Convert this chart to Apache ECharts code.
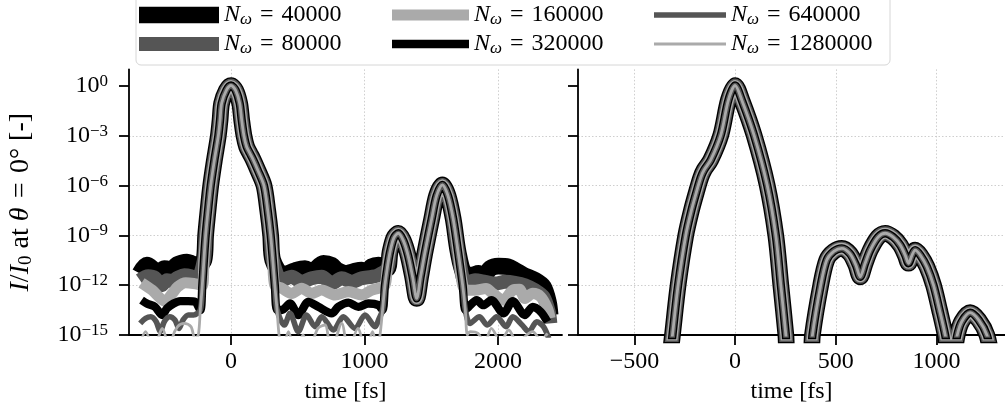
<!DOCTYPE html>
<html><head><meta charset="utf-8">
<script src="https://cdn.jsdelivr.net/npm/echarts@6/dist/echarts.min.js"></script>
<style>html,body{margin:0;padding:0;background:#fff}#c{width:1005px;height:410px}</style>
</head><body><div id="c"></div><script>
// ---------------- data ----------------
const nOmega = ['40000', '80000', '160000', '320000', '640000', '1280000'];
const floorValues = [4e-12, 1.5e-12, 5e-13, 3e-14, 1e-14, 1e-16];
const refLevel = 1e-12;
const yTickValues = [1e-15, 1e-12, 1e-9, 1e-6, 1e-3, 1];
const leftXTicks = [0, 1000, 2000];
const rightXTicks = [-500, 0, 500, 1000];

// left panel: common main pulse and echo pulses, time [fs], I/I0
const leftMainPeak = [[-262,1e-17],[-245,1e-15],[-230,3.2e-14],[-215,1e-12],[-203,3.2e-11],[-190,1e-9],[-172,3.2e-8],[-152,1e-6],[-125,3.2e-5],[-95,1e-3],[-82,8.9e-3],[-70,0.091],[-35,0.55],[0,1.07],[35,0.55],[65,0.091],[80,8.9e-3],[97,1e-3],[117,2.2e-4],[142,8.7e-5],[167,3.5e-5],[200,8.7e-6],[247,1e-6],[275,3.2e-8],[297,1e-9],[313,3.2e-11],[328,1e-12],[345,3.2e-14],[360,1e-15],[375,1e-17]];
const leftEchoPeaks = [[1100,3.2e-17],[1116,1e-15],[1135,3.2e-14],[1153,1e-12],[1170,1e-11],[1191,1e-10],[1220,7.1e-10],[1253,1.35e-9],[1290,5e-10],[1326,6.3e-11],[1360,3.2e-12],[1391,1.6e-13],[1420,3.2e-12],[1453,1e-10],[1503,1e-8],[1540,2.5e-7],[1583,1.1e-6],[1625,2.5e-7],[1664,1e-8],[1701,1e-10],[1735,1e-12],[1755,3.2e-14],[1770,1e-15],[1785,3.2e-17]];

// noise floors per N_omega (before main pulse, between, after echoes)
const noiseBefore = [
  [[-682,5e-12],[-630,1.6e-11],[-590,1e-11],[-545,4e-12],[-500,1e-11],[-470,8.9e-12],[-452,3.2e-12],[-410,1.6e-11],[-370,2.2e-11],[-330,2.5e-11],[-295,2e-11],[-260,1.6e-11]],
  [[-682,2e-12],[-620,3.5e-12],[-570,2.8e-12],[-520,1e-12],[-480,2e-12],[-440,1.8e-12],[-400,2.8e-12],[-350,4e-12],[-300,3.5e-12],[-255,2.5e-12]],
  [[-670,1.4e-12],[-590,5e-13],[-494,1.1e-13],[-440,3.2e-13],[-400,7.9e-13],[-340,1.4e-12],[-280,1.26e-12]],
  [[-670,1.26e-13],[-630,7.9e-14],[-570,5e-14],[-515,1.6e-14],[-480,4e-14],[-430,7.9e-14],[-380,1.1e-13],[-320,1.1e-13],[-270,1e-13]],
  [[-680,5e-15],[-640,1e-14],[-600,1.26e-14],[-560,6.3e-15],[-530,1.6e-15],[-500,6.3e-15],[-460,1.26e-14],[-420,7.9e-15],[-390,2.5e-15],[-360,7.9e-15],[-320,1.6e-14],[-280,1.6e-14]],
  [[-680,3.2e-16],[-640,1.6e-15],[-600,2.5e-16],[-575,3.2e-17],[-545,6.3e-16],[-515,2.5e-15],[-485,5e-16],[-465,3.2e-17],[-440,6.3e-16],[-400,3.2e-15],[-350,5e-15],[-300,3.2e-15],[-270,6.3e-16]]
];
const noiseBetween = [
  [[392,4.2e-12],[479,7.5e-12],[554,1e-11],[604,6.6e-12],[692,2.1e-11],[754,1.6e-11],[792,8.2e-12],[866,5.1e-12],[916,6.6e-12],[979,8.2e-12],[1016,6.6e-12],[1054,1.3e-11],[1104,1.6e-11]],
  [[380,2e-12],[455,3.2e-12],[529,1.6e-12],[604,2.6e-12],[679,3.2e-12],[754,1.3e-12],[829,2.6e-12],[904,1.6e-12],[979,2.6e-12],[1054,3.2e-12],[1104,4.1e-12]],
  [[380,6.5e-13],[455,3.2e-13],[529,6.5e-13],[604,3.2e-13],[679,5.1e-13],[779,2.6e-13],[879,4.1e-13],[979,2.6e-13],[1054,5.1e-13],[1104,6.5e-13]],
  [[380,3.2e-14],[442,7.9e-14],[504,1.6e-14],[579,1e-13],[654,5e-14],[754,2e-14],[804,5e-14],[879,8.9e-14],[954,5e-14],[1029,7.9e-14],[1104,6.3e-14]],
  [[400,4e-15],[442,2e-14],[504,1.6e-15],[566,1.6e-14],[629,3.2e-15],[679,1.26e-14],[767,2e-15],[841,1.26e-14],[929,2.5e-15],[1004,1.6e-14],[1079,3.2e-15],[1110,1e-14]],
  [[385,1e-16],[430,1.6e-15],[480,1e-16],[540,1e-15],[579,1e-16],[650,2.5e-15],[704,4e-15],[750,1e-16],[829,5e-15],[880,1e-16],[950,2.5e-15],[1010,1e-16],[1060,1.6e-15],[1095,1.6e-16]]
];
const noiseAfter = [
  [[1745,5.1e-12],[1803,4e-12],[1853,5.1e-12],[1890,3.2e-12],[1940,1e-11],[2003,1.4e-11],[2077,1.26e-11],[2127,8e-12],[2190,4e-12],[2277,2e-12],[2340,8e-13],[2377,1e-13],[2390,1.6e-14]],
  [[1760,1.26e-12],[1828,2e-12],[1903,1.6e-12],[1978,1.26e-12],[2053,1.6e-12],[2127,1.4e-12],[2202,1e-12],[2277,5e-13],[2340,2e-13],[2380,2.5e-14],[2392,5e-15]],
  [[1765,5e-13],[1828,5e-13],[1910,6.3e-13],[1960,3.2e-13],[2040,1.26e-13],[2110,5e-13],[2160,5.6e-13],[2202,1.6e-13],[2260,3.2e-13],[2320,2e-13],[2370,4e-14],[2390,1e-14]],
  [[1780,5e-14],[1840,1.26e-13],[1890,6.3e-14],[1950,1.26e-13],[2040,2e-14],[2110,1.1e-13],[2200,1.6e-14],[2260,5e-14],[2320,2.5e-14],[2370,6.3e-15]],
  [[1790,5e-15],[1860,1.26e-14],[1920,4e-15],[1990,1.26e-14],[2060,3.2e-15],[2110,1.26e-14],[2180,4e-15],[2230,1.6e-15],[2290,6.3e-15],[2340,3.2e-15],[2380,6.3e-16]],
  [[1790,1.6e-15],[1850,1.26e-15],[1900,3.2e-16],[1950,2.5e-15],[2020,4e-16],[2080,2e-15],[2150,2.5e-16],[2200,7.9e-16],[2260,1.6e-15],[2320,5e-16],[2370,1.26e-15]]
];

// right panel: identical for all N_omega
const rightPanel = [[-330,1e-17],[-311,1e-15],[-283,1e-12],[-245,1e-9],[-217,3.2e-8],[-190,5e-7],[-170,3.2e-6],[-154,8.7e-6],[-121,3.5e-5],[-71,1.1e-3],[-33,0.145],[0,1.07],[33,0.145],[94,1.1e-3],[159,1.1e-6],[202,1e-9],[227,1e-12],[252,1e-15],[265,1e-17],
  [370,1e-17],[384,1e-15],[425,1e-12],[455,3.3e-11],[490,1.1e-10],[530,1.66e-10],[570,7.9e-11],[600,1.6e-11],[621,3.2e-12],[645,2e-11],[671,1.3e-10],[710,7.9e-10],[745,1.35e-9],[785,7.9e-10],[820,2.6e-10],[845,6.3e-11],[861,2.1e-11],[878,6.3e-11],[894,1.3e-10],[920,6.3e-11],[952,1.3e-11],[985,1e-12],[1015,3.2e-14],[1043,1e-15],[1072,1e-17],[1103,1e-15],[1125,6.3e-15],[1167,2.2e-14],[1210,7.9e-15],[1250,1e-15],[1275,3.2e-17]];

// ---------------- styles ----------------
const lineColors = ['#000000', '#555555', '#aaaaaa', '#000000', '#555555', '#aaaaaa'];
const lineWidths = [16.7, 13.9, 11.1, 8.3, 5.6, 2.8];
const FONT = '"Liberation Serif","DejaVu Serif",serif';

function aboveFloor(arr, floor) {
  let i = 0; while (i < arr.length && arr[i][1] < floor) i++;
  let j = arr.length - 1; while (j >= 0 && arr[j][1] < floor) j--;
  return arr.slice(i, j + 1);
}

const series = [];
// reference line at 1e-12 (below curves)
[0, 1].forEach(g => series.push({
  type: 'line', data: [], xAxisIndex: g, yAxisIndex: g, silent: true,
  markLine: { z: 1, silent: true, symbol: 'none', animation: false, label: { show: false },
    lineStyle: { color: '#000', width: 2.4, type: 'solid' }, data: [{ yAxis: refLevel }] }
}));
nOmega.forEach((n, k) => {
  const common = {
    type: 'line', name: n, showSymbol: false, symbol: 'none', smooth: 0.3,
    silent: true, animation: false, z: 2, color: lineColors[k],
    itemStyle: { color: lineColors[k] },
    lineStyle: { color: lineColors[k], width: lineWidths[k], join: 'round', cap: 'butt' }
  };
  const leftData = [].concat(noiseBefore[k], aboveFloor(leftMainPeak, floorValues[k]),
    noiseBetween[k], aboveFloor(leftEchoPeaks, floorValues[k]), noiseAfter[k]);
  series.push(Object.assign({}, common, { xAxisIndex: 0, yAxisIndex: 0, data: leftData }));
  series.push(Object.assign({}, common, { xAxisIndex: 1, yAxisIndex: 1, data: rightPanel }));
});

const axisLineStyle = { color: '#000', width: 1.8 };
const gridLine = { show: true, lineStyle: { color: '#c8c8c8', width: 0.9, type: [1.5, 2] } };
const minus = v => (v < 0 ? '\u2212' + Math.abs(v) : String(v));

function xAxis(g, min, max, ticks) {
  return {
    type: 'value', gridIndex: g, min: min, max: max,
    name: 'time [fs]', nameLocation: 'middle', nameGap: 45,
    nameTextStyle: { fontFamily: FONT, fontSize: 24, color: '#000', lineHeight: 24 },
    axisLine: { show: true, onZero: false, lineStyle: axisLineStyle },
    axisTick: { show: true, length: 10, lineStyle: axisLineStyle, customValues: ticks },
    axisLabel: { fontFamily: FONT, fontSize: 24, color: '#000', margin: 15, lineHeight: 24,
      customValues: ticks, formatter: minus },
    splitLine: gridLine
  };
}
function yAxis(g, labels) {
  return {
    type: 'log', logBase: 10, gridIndex: g, min: 1e-15, max: 10,
    name: labels ? '{i|I}{t|/}{i|I}{s|0}{t| at }{i|\u03b8}{t|\u2004=\u20040\u00b0 [-]}' : '',
    nameLocation: 'middle', nameRotate: 90, nameGap: 93,
    nameTextStyle: { fontFamily: FONT, fontSize: 28, color: '#000',
      rich: {
        i: { fontFamily: FONT, fontSize: 28, fontStyle: 'italic', lineHeight: 30 },
        t: { fontFamily: FONT, fontSize: 28, lineHeight: 30 },
        s: { fontFamily: FONT, fontSize: 19, lineHeight: 10, verticalAlign: 'bottom' }
      } },
    axisLine: { show: true, onZero: false, lineStyle: axisLineStyle },
    axisTick: { show: true, length: 10, lineStyle: axisLineStyle, customValues: yTickValues },
    axisLabel: { show: labels, margin: 21, customValues: yTickValues,
      formatter: v => { const e = Math.round(Math.log10(v)); return '{b|10}{s|' + minus(e) + '}'; },
      rich: {
        b: { fontFamily: FONT, fontSize: 24, color: '#000', lineHeight: 26 },
        s: { fontFamily: FONT, fontSize: 17, color: '#000', lineHeight: 10, verticalAlign: 'top' }
      } },
    splitLine: Object.assign({ showMaxLine: false, showMinLine: false }, gridLine)
  };
}

const legendLeft = [139, 392, 654];
const legendItemWidth = [80, 77, 72];
const legendCols = [[0, 1], [2, 3], [4, 5]];
const legend = legendCols.map((col, c) => ({
  orient: 'vertical', left: legendLeft[c], top: 3, padding: 0, itemGap: 4,
  itemWidth: legendItemWidth[c], itemHeight: 17, symbolKeepAspect: true, selectedMode: false,
  data: col.map(k => ({ name: nOmega[k],
    icon: 'path://M0,0H' + legendItemWidth[c] + 'V' + lineWidths[k] + 'H0Z',
    itemStyle: { color: lineColors[k], borderWidth: 0 } })),
  formatter: name => '{i|N}{s|\u03c9}{t|\u2004=\u2004' + name + '}',
  textStyle: { fontFamily: FONT, fontSize: 24, color: '#000',
    rich: {
      i: { fontFamily: FONT, fontSize: 24, fontStyle: 'italic', lineHeight: 26 },
      t: { fontFamily: FONT, fontSize: 24, lineHeight: 26 },
      s: { fontFamily: FONT, fontSize: 17, fontStyle: 'italic', lineHeight: 10, verticalAlign: 'bottom' }
    } }
}));

const option = {
  animation: false,
  backgroundColor: '#fff',
  graphic: [{ type: 'rect', z: -1, silent: true,
    shape: { x: 136, y: -6, width: 754, height: 71, r: 5 },
    style: { fill: '#fff', stroke: '#d6d6d6', lineWidth: 1 } }],
  legend: legend,
  grid: [
    { left: 129, top: 69.4, width: 433, height: 265.6, containLabel: false },
    { left: 578, top: 69.4, right: 0, height: 265.6, containLabel: false }
  ],
  xAxis: [xAxis(0, -764, 2479, leftXTicks), xAxis(1, -780, 1340, rightXTicks)],
  yAxis: [yAxis(0, true), yAxis(1, false)],
  series: series
};
const chart = echarts.init(document.getElementById('c'), null, { renderer: 'canvas' });
chart.setOption(option);
</script></body></html>
